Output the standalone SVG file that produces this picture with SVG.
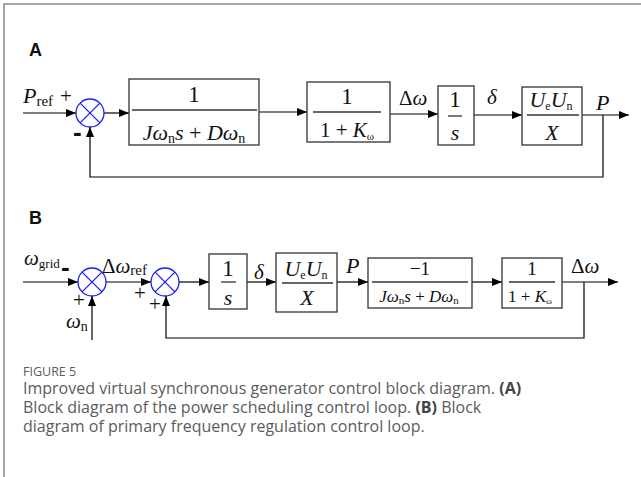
<svg xmlns="http://www.w3.org/2000/svg" width="641" height="477" viewBox="0 0 641 477">
<defs>
<marker id="ah" viewBox="0 0 10 8" refX="10" refY="4" markerWidth="10" markerHeight="8" markerUnits="userSpaceOnUse" orient="auto">
<path d="M0,0 L10,4 L0,8 Z" fill="#000"/>
</marker>
<style>
.frame{stroke:#8a8a8a;stroke-width:1.5;fill:none}
.blk{fill:#fff;stroke:#333;stroke-width:1.3}
.frac{stroke:#333;stroke-width:1.3}
.sum{fill:#fff;stroke:#1a1aff;stroke-width:1.3}
.wire{fill:none;stroke:#000;stroke-width:1.2}
.m{font-family:"Liberation Serif","Times New Roman",serif;fill:#111}
.i{font-style:italic}
.lbl{font-family:"Liberation Sans",Arial,sans-serif;font-weight:bold;font-size:18px;fill:#111}
.sgn{font-family:"Liberation Sans",Arial,sans-serif;font-weight:bold;font-size:26px;fill:#111}
.cap{font-family:"Open Sans","Noto Sans",sans-serif;fill:#5b5b5b}
</style>
</defs>
<rect width="641" height="477" fill="#fff"/>
<path class="frame" d="M641,4 H4 V477"/>

<text class="lbl" x="29" y="56">A</text>
<text class="lbl" x="29" y="224">B</text>

<g id="connectors">
<!-- A -->
<line class="wire" x1="23" y1="113" x2="76" y2="113" marker-end="url(#ah)"/>
<line class="wire" x1="104" y1="113" x2="129" y2="113" marker-end="url(#ah)"/>
<line class="wire" x1="259" y1="112" x2="307" y2="112" marker-end="url(#ah)"/>
<line class="wire" x1="390" y1="114" x2="438" y2="114" marker-end="url(#ah)"/>
<line class="wire" x1="474" y1="115" x2="522" y2="115" marker-end="url(#ah)"/>
<line class="wire" x1="582" y1="115" x2="629" y2="115" marker-end="url(#ah)"/>
<path class="wire" d="M603,115 V177 H90 V127" marker-end="url(#ah)"/>
<!-- B -->
<line class="wire" x1="23" y1="282" x2="78" y2="282" marker-end="url(#ah)"/>
<line class="wire" x1="92" y1="340" x2="92" y2="296" marker-end="url(#ah)"/>
<line class="wire" x1="106" y1="282" x2="151" y2="282" marker-end="url(#ah)"/>
<line class="wire" x1="179" y1="282" x2="209" y2="282" marker-end="url(#ah)"/>
<line class="wire" x1="247" y1="282" x2="276" y2="282" marker-end="url(#ah)"/>
<line class="wire" x1="337" y1="282" x2="368" y2="282" marker-end="url(#ah)"/>
<line class="wire" x1="472" y1="282" x2="502" y2="282" marker-end="url(#ah)"/>
<line class="wire" x1="562" y1="282" x2="618" y2="282" marker-end="url(#ah)"/>
<path class="wire" d="M584,282 V338 H166 V296" marker-end="url(#ah)"/>
</g>

<!-- Diagram A nodes -->
<g id="A-sum">
<circle class="sum" cx="90" cy="113" r="14"/>
<path class="sum" d="M80.1,103.1 L99.9,122.9 M80.1,122.9 L99.9,103.1"/>
<text class="m" x="23" y="103" font-size="22"><tspan class="i">P</tspan><tspan font-size="15" dy="3">ref</tspan></text>
<text class="m" x="60" y="103" font-size="21">+</text>
<text class="sgn" x="73" y="141">-</text>
</g>
<g id="A-block1">
<rect class="blk" x="129" y="79" width="130" height="66"/>
<line class="frac" x1="132" y1="110" x2="257" y2="110"/>
<text class="m" x="194" y="102" font-size="23" text-anchor="middle">1</text>
<text class="m" x="194" y="140" font-size="22" text-anchor="middle"><tspan class="i">Jω</tspan><tspan font-size="14" dy="3">n</tspan><tspan class="i" dy="-3">s</tspan> + <tspan class="i">Dω</tspan><tspan font-size="14" dy="3">n</tspan></text>
</g>
<g id="A-block2">
<rect class="blk" x="307" y="82" width="83" height="60"/>
<line class="frac" x1="313" y1="112" x2="381" y2="112"/>
<text class="m" x="347" y="104" font-size="23" text-anchor="middle">1</text>
<text class="m" x="347" y="137" font-size="21" text-anchor="middle">1 + <tspan class="i">K</tspan><tspan font-size="11" dy="3">ω</tspan></text>
</g>
<text id="A-dw" class="m" x="399" y="105" font-size="21">Δ<tspan class="i">ω</tspan></text>
<g id="A-block3">
<rect class="blk" x="438" y="86" width="36" height="59"/>
<line class="frac" x1="448" y1="116" x2="462" y2="116"/>
<text class="m" x="455" y="107" font-size="23" text-anchor="middle">1</text>
<text class="m i" x="455" y="140" font-size="22" text-anchor="middle">s</text>
</g>
<text id="A-delta" class="m i" x="487" y="104" font-size="21">δ</text>
<g id="A-block4">
<rect class="blk" x="522" y="87" width="60" height="58"/>
<line class="frac" x1="527" y1="115" x2="579" y2="115"/>
<text class="m" x="551" y="107" font-size="22" text-anchor="middle"><tspan class="i">U</tspan><tspan font-size="12" dy="3">e</tspan><tspan class="i" dy="-3">U</tspan><tspan font-size="12" dy="3">n</tspan></text>
<text class="m i" x="552" y="140" font-size="22" text-anchor="middle">X</text>
</g>
<text id="A-P" class="m i" x="596" y="110" font-size="22">P</text>

<!-- Diagram B nodes -->
<g id="B-sum1">
<circle class="sum" cx="92" cy="282" r="14"/>
<path class="sum" d="M82.1,272.1 L101.9,291.9 M82.1,291.9 L101.9,272.1"/>
<text class="m" x="24" y="265" font-size="21"><tspan class="i">ω</tspan><tspan font-size="13" dy="3">grid</tspan></text>
<text class="sgn" x="61" y="276">-</text>
<text class="m" x="79" y="307" font-size="21" text-anchor="middle">+</text>
<text class="m" x="66" y="328" font-size="21"><tspan class="i">ω</tspan><tspan font-size="14" dy="3">n</tspan></text>
<text class="m" x="102" y="273" font-size="21">Δ<tspan class="i">ω</tspan><tspan font-size="15" dy="2">ref</tspan></text>
</g>
<g id="B-sum2">
<circle class="sum" cx="165" cy="282" r="14"/>
<path class="sum" d="M155.1,272.1 L174.9,291.9 M155.1,291.9 L174.9,272.1"/>
<text class="m" x="140" y="300" font-size="21" text-anchor="middle">+</text>
<text class="m" x="155" y="311" font-size="21" text-anchor="middle">+</text>
</g>
<g id="B-block1">
<rect class="blk" x="209" y="254" width="38" height="55"/>
<line class="frac" x1="221" y1="282" x2="236" y2="282"/>
<text class="m" x="228" y="276" font-size="23" text-anchor="middle">1</text>
<text class="m i" x="228" y="305" font-size="22" text-anchor="middle">s</text>
</g>
<text id="B-delta" class="m i" x="254" y="279" font-size="21">δ</text>
<g id="B-block2">
<rect class="blk" x="276" y="253" width="61" height="59"/>
<line class="frac" x1="282" y1="283" x2="333" y2="283"/>
<text class="m" x="306" y="276" font-size="22" text-anchor="middle"><tspan class="i">U</tspan><tspan font-size="12" dy="3">e</tspan><tspan class="i" dy="-3">U</tspan><tspan font-size="12" dy="3">n</tspan></text>
<text class="m i" x="307" y="305" font-size="22" text-anchor="middle">X</text>
</g>
<text id="B-P" class="m i" x="346" y="273" font-size="22">P</text>
<g id="B-block3">
<rect class="blk" x="368" y="258" width="104" height="50"/>
<line class="frac" x1="372" y1="282" x2="468" y2="282"/>
<text class="m" x="420" y="275" font-size="19" text-anchor="middle">−1</text>
<text class="m" x="419" y="302" font-size="17" text-anchor="middle"><tspan class="i">Jω</tspan><tspan font-size="11" dy="2">n</tspan><tspan class="i" dy="-2">s</tspan> + <tspan class="i">Dω</tspan><tspan font-size="11" dy="2">n</tspan></text>
</g>
<g id="B-block4">
<rect class="blk" x="502" y="258" width="60" height="50"/>
<line class="frac" x1="509" y1="282" x2="555" y2="282"/>
<text class="m" x="532" y="275" font-size="19" text-anchor="middle">1</text>
<text class="m" x="530" y="302" font-size="17" text-anchor="middle">1 + <tspan class="i">K</tspan><tspan font-size="9" dy="2">ω</tspan></text>
</g>
<text id="B-dw" class="m" x="571" y="273" font-size="21">Δ<tspan class="i">ω</tspan></text>

<!-- caption -->
<text class="cap" x="23" y="376" font-size="12.5" fill="#777">FIGURE 5</text>
<text class="cap" x="23" y="394" font-size="16">Improved virtual synchronous generator control block diagram. <tspan font-weight="bold" fill="#444">(A)</tspan></text>
<text class="cap" x="23" y="413" font-size="16">Block diagram of the power scheduling control loop. <tspan font-weight="bold" fill="#444">(B)</tspan> Block</text>
<text class="cap" x="23" y="432" font-size="16">diagram of primary frequency regulation control loop.</text>
</svg>
